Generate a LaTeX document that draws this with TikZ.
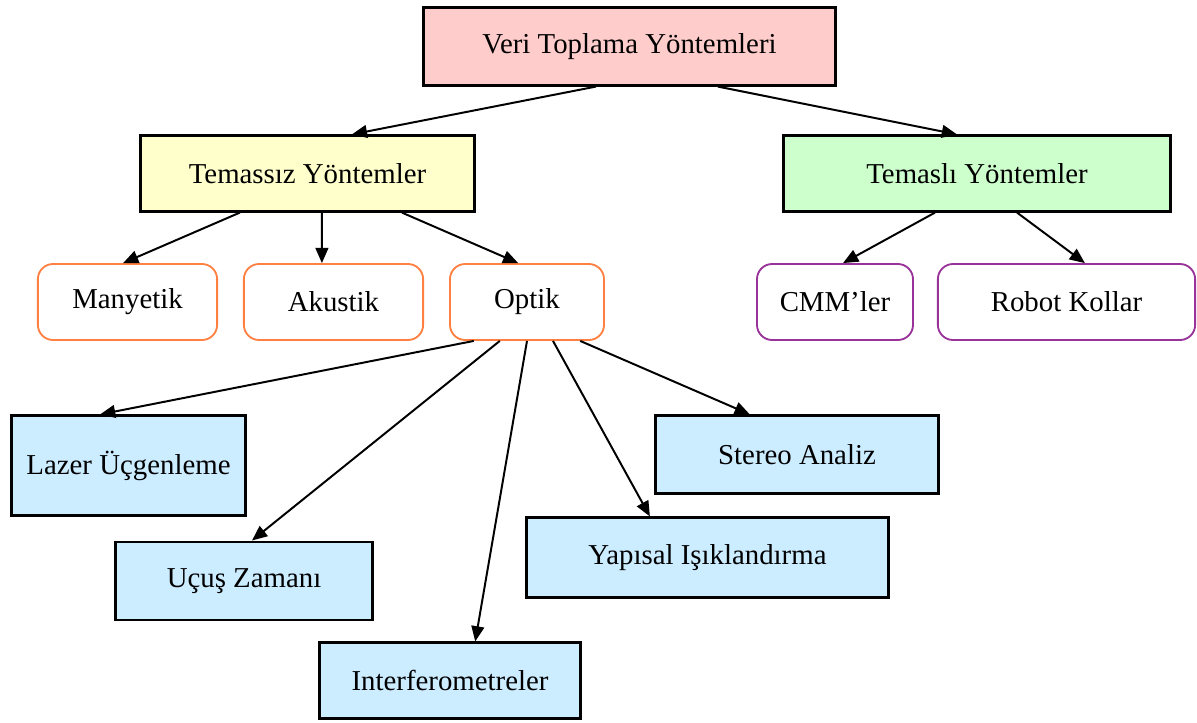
\documentclass[tikz,border=0pt]{standalone}
\usepackage{fontspec}
\setmainfont{Liberation Serif}
\usetikzlibrary{arrows.meta, positioning, calc}

\definecolor{cpink}{RGB}{255,204,204}
\definecolor{cyellow}{RGB}{255,255,204}
\definecolor{cgreen}{RGB}{204,255,204}
\definecolor{cblue}{RGB}{204,236,255}
\definecolor{corange}{RGB}{255,128,64}
\definecolor{cpurple}{RGB}{153,51,153}

\begin{document}
\begin{tikzpicture}[
  x=0.025cm, y=-0.025cm,
  font=\fontsize{20.5}{24}\selectfont,
  box/.style = {draw=black, line width=2.1pt, inner sep=2pt, minimum height=1.9cm},
  rbox/.style = {draw, rounded corners=0.38cm, line width=1.3pt, fill=white, inner sep=2pt, minimum height=1.9cm},
  npink/.style = {fill=cpink},
  nyellow/.style = {fill=cyellow},
  ngreen/.style = {fill=cgreen},
  nblue/.style = {fill=cblue},
  morange/.style = {draw=corange},
  mpurple/.style = {draw=cpurple},
  link/.style = {line width=1.4pt, -{Triangle[length=0.38cm, width=0.32cm]}},
  ]
  \useasboundingbox (0,0) rectangle (1197,723);

  \node[box, npink, minimum width=10.28cm, minimum height=1.93cm] (veri) at (629.5, 46.5) {Veri Toplama Yöntemleri};
  \node[box, nyellow, minimum width=8.33cm, minimum height=1.88cm] (temassiz) at (307.5, 173.5) {Temassız Yöntemler};
  \node[box, ngreen, minimum width=9.65cm, minimum height=1.88cm] (temasli) at (977, 173.5) {Temaslı Yöntemler};
  \node[rbox, morange, minimum width=4.48cm] (manyetik) at (127.5, 302) {Manyetik};
  \node[rbox, morange, minimum width=4.48cm] (akustik) at (333.5, 302) {Akustik};
  \node[rbox, morange, minimum width=3.85cm] (optik) at (527, 302) {Optik};
  \node[rbox, mpurple, minimum width=3.9cm] (cmm) at (835, 302) {CMM’ler};
  \node[rbox, mpurple, minimum width=6.43cm] (robot) at (1066.5, 302) {Robot Kollar};
  \node[box, nblue, minimum width=5.83cm, minimum height=2.48cm] (lazer) at (128.5, 465.5) {Lazer Üçgenleme};
  \node[box, nblue, minimum width=7.05cm, minimum height=1.93cm] (stereo) at (797, 454.5) {Stereo Analiz};
  \node[box, nblue, minimum width=6.4cm, minimum height=1.95cm] (ucus) at (244, 581) {Uçuş Zamanı};
  \node[box, nblue, minimum width=9.03cm, minimum height=1.98cm] (yapisal) at (707.5, 557.5) {Yapısal Işıklandırma};
  \node[box, nblue, minimum width=6.5cm, minimum height=1.88cm] (interf) at (450, 680.5) {Interferometreler};

  \draw[link] ([xshift=-0.84cm]veri.south) -- ([xshift=1.11cm]temassiz.north);
  \draw[link] ([xshift=2.21cm]veri.south) -- ([xshift=-0.5cm]temasli.north);
  \draw[link] ([xshift=-1.69cm]temassiz.south) -- ([xshift=-0.11cm]manyetik.north);
  \draw[link] ([xshift=0.36cm]temassiz.south) -- ([xshift=-0.29cm]akustik.north);
  \draw[link] ([xshift=2.36cm]temassiz.south) -- ([xshift=-0.22cm]optik.north);
  \draw[link] ([xshift=-1.05cm]temasli.south) -- ([xshift=0.2cm]cmm.north);
  \draw[link] ([xshift=1.0cm]temasli.south) -- ([xshift=0.46cm]robot.north);
  \draw[link] ([xshift=-1.33cm]optik.south) -- ([xshift=-0.71cm]lazer.north);
  \draw[link] ([xshift=-0.68cm]optik.south) -- ([xshift=0.2cm]ucus.north);
  \draw[link] (optik.south) -- ([xshift=0.63cm]interf.north);
  \draw[link] ([xshift=0.65cm]optik.south) -- ([xshift=-1.44cm]yapisal.north);
  \draw[link] ([xshift=1.33cm]optik.south) -- ([xshift=-1.18cm]stereo.north);
\end{tikzpicture}
\end{document}
